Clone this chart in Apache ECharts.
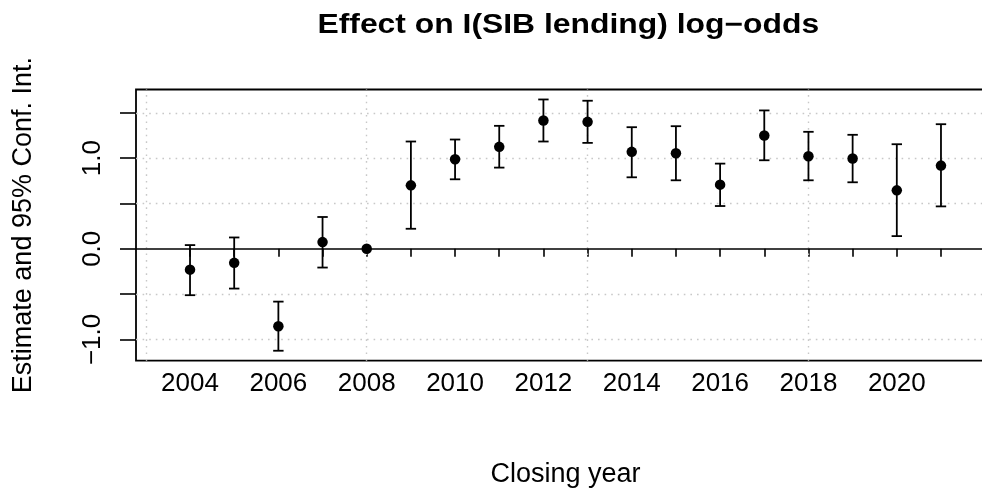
<!DOCTYPE html>
<html>
<head>
<meta charset="utf-8">
<script src="https://cdn.jsdelivr.net/npm/echarts@6/dist/echarts.min.js"></script>
<style>html,body{margin:0;padding:0;background:#fff}#c{width:982px;height:491px}</style>
</head>
<body>
<div id="c"></div>
<script>
const years     = [2004, 2005, 2006, 2007, 2008, 2009, 2010, 2011, 2012, 2013, 2014, 2015, 2016, 2017, 2018, 2019, 2020, 2021];
const estimates = [-0.23, -0.155, -0.855, 0.074, 0.0, 0.70, 0.988, 1.125, 1.416, 1.401, 1.070, 1.055, 0.708, 1.250, 1.021, 0.996, 0.645, 0.918];
const lower     = [-0.512, -0.439, -1.125, -0.207, null, 0.221, 0.767, 0.896, 1.184, 1.169, 0.789, 0.756, 0.472, 0.977, 0.756, 0.734, 0.140, 0.468];
const upper     = [0.041, 0.125, -0.583, 0.351, null, 1.184, 1.206, 1.357, 1.648, 1.634, 1.342, 1.353, 0.940, 1.527, 1.291, 1.258, 1.154, 1.375];
const xLabelYears = [2004, 2006, 2008, 2010, 2012, 2014, 2016, 2018, 2020];
const yTickValues = [-1.0, -0.5, 0.0, 0.5, 1.0, 1.5];
const yLabelValues = [-1.0, 0.0, 1.0];
const xGridValues = [2003, 2008, 2013, 2018];
const yGridValues = [-1.0, -0.5, 0.5, 1.0, 1.5];
const titleText = 'Effect on I(SIB lending) log\u2212odds';

const FONT = '"Liberation Sans", Arial, Helvetica, sans-serif';
const chart = echarts.init(document.getElementById('c'), null, {renderer: 'canvas'});

const barData = years.map((y, i) => [y, lower[i], upper[i]]).filter(d => d[1] !== null);
const ptData = years.map((y, i) => [y, estimates[i]]);
const dotted = {color: '#c8c8c8', width: 1.4, type: [1.6, 5]};

const gridLineData = [
  ...xGridValues.map(v => ({xAxis: v, lineStyle: dotted})),
  ...yGridValues.map(v => ({yAxis: v, lineStyle: dotted}))
];

chart.setOption({
  animation: false,
  backgroundColor: '#fff',
  graphic: [{
    type: 'group', x: 568.3, y: 12, scaleX: 1.18,
    children: [{
      type: 'text', x: 0, y: 0,
      style: {text: titleText, textAlign: 'center', textVerticalAlign: 'top',
        font: 'bold 27px ' + FONT, fill: '#000'}
    }]
  }],
  grid: {left: 136, top: 89.5, width: 859, bottom: 130.3, outerBoundsMode: 'none', containLabel: false,
    show: true, borderColor: '#000', borderWidth: 1.8, backgroundColor: 'transparent'},
  xAxis: {
    type: 'value', min: 2002.777, max: 2022.223,
    name: 'Closing year', nameLocation: 'middle', nameGap: 100,
    nameTextStyle: {fontFamily: FONT, fontSize: 27, color: '#000'},
    axisLine: {show: false},
    axisTick: {show: true, inside: false, length: 8, customValues: years, lineStyle: {color: '#000', width: 1.6}},
    axisLabel: {customValues: xLabelYears, margin: 10, fontFamily: FONT, fontSize: 26, color: '#000', formatter: v => String(v)},
    splitLine: {show: false}
  },
  yAxis: {
    type: 'value', min: -1.235, max: 1.758,
    name: 'Estimate and 95% Conf. Int.', nameLocation: 'middle', nameGap: 99, nameRotate: 90,
    nameTextStyle: {fontFamily: FONT, fontSize: 27, color: '#000'},
    axisLine: {show: false},
    axisTick: {show: true, inside: false, length: 16, customValues: yTickValues, lineStyle: {color: '#000', width: 1.6}},
    axisLabel: {customValues: yLabelValues, rotate: 90, margin: 30, fontFamily: FONT, fontSize: 26, color: '#000',
      formatter: v => (v < 0 ? '\u2212' : '') + Math.abs(v).toFixed(1)},
    splitLine: {show: false}
  },
  series: [
    {
      type: 'line', data: [], z: 1,
      markLine: {silent: true, symbol: 'none', z: 1, label: {show: false}, animation: false, data: gridLineData}
    },
    {
      type: 'line', data: [], z: 2,
      markLine: {silent: true, symbol: 'none', z: 2, label: {show: false}, animation: false,
        data: [{yAxis: 0, lineStyle: {color: '#000', width: 1.7, type: 'solid'}}]}
    },
    {
      type: 'custom',
      data: barData,
      z: 5,
      renderItem: function (params, api) {
        const x = api.value(0);
        const lo = api.coord([x, api.value(1)]);
        const hi = api.coord([x, api.value(2)]);
        const hw = 5.2;
        const st = {stroke: '#000', lineWidth: 1.8};
        return {
          type: 'group',
          children: [
            {type: 'line', shape: {x1: lo[0], y1: lo[1], x2: hi[0], y2: hi[1]}, style: st},
            {type: 'line', shape: {x1: lo[0] - hw, y1: lo[1], x2: lo[0] + hw, y2: lo[1]}, style: st},
            {type: 'line', shape: {x1: hi[0] - hw, y1: hi[1], x2: hi[0] + hw, y2: hi[1]}, style: st}
          ]
        };
      }
    },
    {
      type: 'scatter',
      data: ptData,
      symbol: 'circle', symbolSize: 10.5, z: 10,
      itemStyle: {color: '#000', opacity: 1}
    }
  ]
});
</script>
</body>
</html>
